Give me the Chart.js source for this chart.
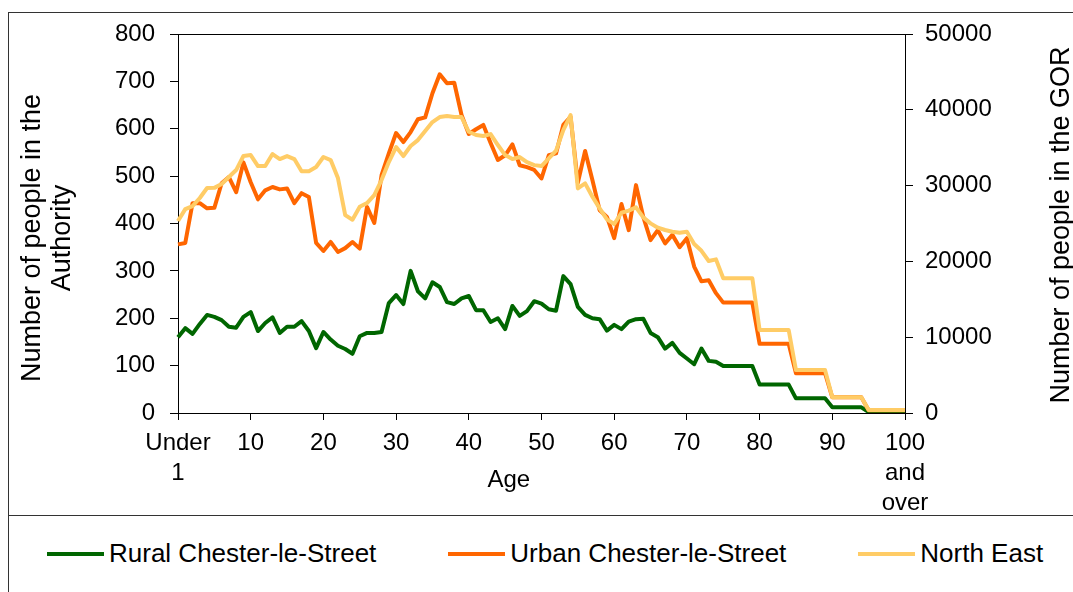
<!DOCTYPE html>
<html>
<head>
<meta charset="utf-8">
<script src="https://cdn.jsdelivr.net/npm/chart.js@4.4.1/dist/chart.umd.min.js"></script>
<style>
  body { margin: 0; background: #fff; font-family: 'Liberation Sans', Arial, sans-serif; }
  #wrap { position: relative; width: 1073px; height: 592px; overflow: hidden; }
  #frame { position: absolute; left: 8px; top: 12px; width: 1100px; height: 600px;
           border-left: 1px solid #333; border-top: 1px solid #333; }
  #sep { position: absolute; left: 8px; top: 515px; width: 1100px; border-top: 1px solid #333; }
  #chart { position: absolute; left: 0; top: 0; }
  #legend { position: absolute; left: 47px; top: 538px; display: flex; gap: 72px;
            font-size: 26px; color: #000; }
  .item { display: flex; align-items: center; white-space: nowrap; }
  .swatch { width: 57px; height: 4px; margin-right: 5px; }
</style>
</head>
<body>
<div id="wrap">
  <div id="frame"></div>
  <div id="sep"></div>
  <canvas id="chart" width="1073" height="515"></canvas>
  <div id="legend"></div>
</div>
<script>
// Ages: Under 1, 1 ... 99, 100 and over
const ages = ['Under 1'];
for (let a = 1; a < 100; a++) ages.push(String(a));
ages.push('100 and over');

const seriesNames = ['Rural Chester-le-Street', 'Urban Chester-le-Street', 'North East'];
const seriesColors = ['#006600', '#FF6600', '#FFCC66'];

// number of people in the Authority (left axis)
const rural = [
  160, 179, 167, 188, 207, 203, 196, 182, 180, 203,
  213, 173, 190, 202, 169, 182, 182, 194, 173, 137,
  171, 155, 142, 135, 125, 162, 169, 169, 171, 232,
  249, 230, 300, 257, 242, 276, 266, 234, 230, 242,
  247, 217, 217, 192, 200, 177, 226, 205, 215, 236,
  231, 219, 216, 289, 272, 224, 207, 200, 198, 174,
  186, 177, 193, 198, 199, 169, 160, 136, 148, 127,
  115, 103, 136, 110, 108, 99, 99, 99, 99, 99,
  60, 60, 60, 60, 60, 31, 31, 31, 31, 31,
  12, 12, 12, 12, 12, 2, 2, 2, 2, 2,
  2
];
const urban = [
  356, 359, 443, 443, 432, 433, 485, 498, 466, 529,
  487, 451, 470, 477, 472, 474, 443, 464, 456, 359,
  342, 361, 340, 348, 361, 347, 435, 401, 502, 548,
  591, 572, 593, 620, 624, 675, 715, 696, 697, 629,
  589, 599, 608, 570, 534, 544, 567, 523, 519, 513,
  495, 544, 548, 608, 625, 486, 553, 492, 428, 414,
  369, 441, 386, 481, 414, 365, 386, 358, 376, 350,
  369, 309, 278, 280, 253, 233, 233, 233, 233, 233,
  146, 146, 146, 146, 146, 84, 84, 84, 84, 84,
  33, 33, 33, 33, 33, 6, 6, 6, 6, 6,
  6
];
// number of people in the GOR (right axis)
const northEast = [
  25330, 26900, 27300, 28360, 29680, 29700, 30200, 31130, 32050, 33900,
  34030, 32580, 32580, 34160, 33500, 33900, 33500, 31900, 31900, 32450,
  33770, 33370, 31000, 26100, 25500, 27200, 27700, 28750, 30730, 33100,
  35090, 33900, 35220, 36000, 37200, 38380, 39040, 39170, 39040, 39040,
  37100, 36670, 36540, 36800, 35350, 34030, 33500, 33770, 33100, 32700,
  32580, 33590, 34600, 37330, 39310, 29630, 30290, 28540, 26990, 25540,
  24930, 26420, 26690, 27130, 25810, 25020, 24450, 24140, 23920, 23780,
  23920, 22290, 21400, 20050, 20270, 17770, 17770, 17770, 17770, 17770,
  10950, 10950, 10950, 10950, 10950, 5670, 5670, 5670, 5670, 5670,
  2070, 2070, 2070, 2070, 2070, 400, 400, 400, 400, 400,
  400
];

const leftTitle = ['Number of people in the', 'Authority'];
const rightTitle = 'Number of people in the GOR';
const xTitle = 'Age';

Chart.defaults.font.family = "'Liberation Sans', Arial, sans-serif";
Chart.defaults.color = '#000';

// axis titles drawn by hand (right one reads bottom-to-top like the original)
const titlesPlugin = {
  id: 'titles',
  afterDraw(chart) {
    const { ctx, chartArea: ca } = chart;
    ctx.save();
    ctx.fillStyle = '#000';
    ctx.textAlign = 'center';
    ctx.textBaseline = 'middle';
    ctx.font = "27px 'Liberation Sans', Arial, sans-serif";
    ctx.save();
    ctx.translate(ca.left - 145, ca.top + 204);
    ctx.rotate(-Math.PI / 2);
    ctx.fillText(leftTitle[0], 0, 0);
    ctx.fillText(leftTitle[1], 0, 30);
    ctx.restore();
    ctx.save();
    ctx.translate(ca.right + 157, ca.top + 191);
    ctx.rotate(-Math.PI / 2);
    ctx.fillText(rightTitle, 0, 0);
    ctx.restore();
    ctx.font = "24px 'Liberation Sans', Arial, sans-serif";
    ctx.fillText(xTitle, ca.left + (ca.right - ca.left) * 0.455, ca.bottom + 67);
    ctx.restore();
  }
};

new Chart(document.getElementById('chart'), {
  type: 'line',
  data: {
    labels: ages,
    datasets: [
      { label: seriesNames[0], data: rural, borderColor: seriesColors[0], yAxisID: 'y', order: 3 },
      { label: seriesNames[1], data: urban, borderColor: seriesColors[1], yAxisID: 'y', order: 2 },
      { label: seriesNames[2], data: northEast, borderColor: seriesColors[2], yAxisID: 'y2', order: 1 }
    ]
  },
  options: {
    responsive: false,
    animation: false,
    layout: { padding: { top: 34, left: 0, right: 0, bottom: 0 } },
    elements: {
      line: { borderWidth: 4, tension: 0, borderJoinStyle: 'round', fill: false },
      point: { radius: 0 }
    },
    plugins: { legend: { display: false }, tooltip: { enabled: false } },
    scales: {
      x: {
        grid: { drawOnChartArea: false, tickLength: 7, tickColor: '#000' },
        border: { color: '#000', width: 1 },
        ticks: {
          autoSkip: false, maxRotation: 0, padding: 8,
          font: { size: 24, lineHeight: 1.25 },
          callback: function (v, i) {
            return i % 10 === 0 ? ages[i].split(' ') : null;
          }
        },
        afterFit: s => { s.height = 102; }
      },
      y: {
        position: 'left', min: 0, max: 800,
        grid: {
          color: c => (c.tick && c.tick.value === 800 ? '#000' : 'rgba(0,0,0,0)'),
          tickColor: '#000', tickLength: 8
        },
        border: { color: '#000', width: 1 },
        ticks: { stepSize: 100, padding: 15, font: { size: 24 } },
        afterFit: s => { s.width = 178; }
      },
      y2: {
        position: 'right', min: 0, max: 50000,
        grid: { drawOnChartArea: false, tickColor: '#000', tickLength: 8 },
        border: { color: '#000', width: 1 },
        ticks: { stepSize: 10000, padding: 12, font: { size: 24 }, callback: v => String(v) },
        afterFit: s => { s.width = 168; }
      }
    }
  },
  plugins: [titlesPlugin]
});

// legend, built from the series names and colours
const legend = document.getElementById('legend');
seriesNames.forEach((name, i) => {
  const item = document.createElement('div');
  item.className = 'item';
  const sw = document.createElement('span');
  sw.className = 'swatch';
  sw.style.background = seriesColors[i];
  const tx = document.createElement('span');
  tx.textContent = name;
  item.appendChild(sw);
  item.appendChild(tx);
  legend.appendChild(item);
});
</script>
</body>
</html>
